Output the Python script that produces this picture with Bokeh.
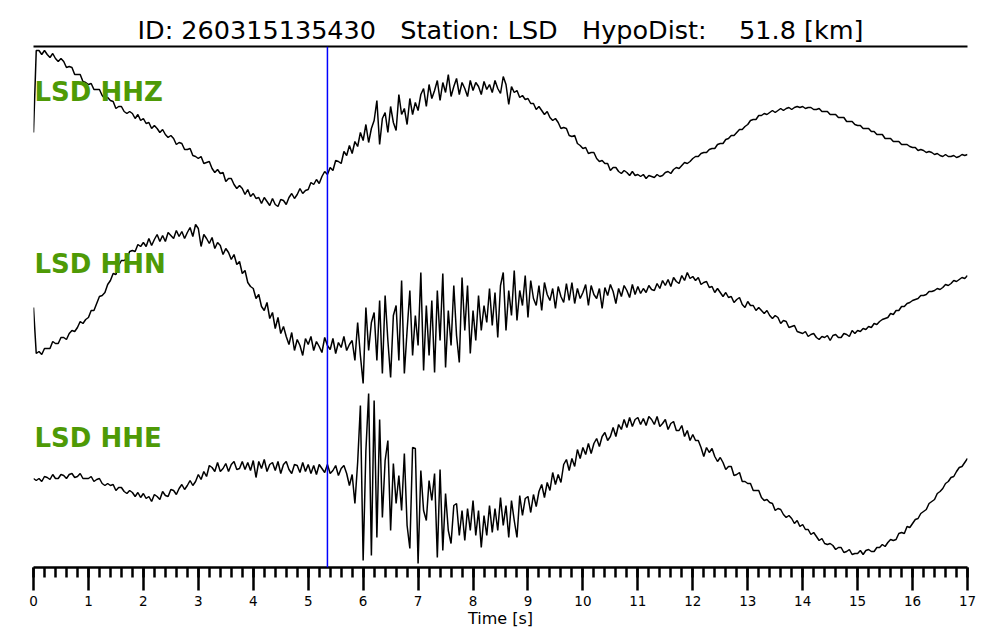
import numpy as np
from bokeh.plotting import figure
from bokeh.models import Range1d, LinearAxis, FixedTicker, Span, Label, ColumnDataSource
from bokeh.embed import file_html
from bokeh.resources import INLINE

# ---------------- data ----------------
NB = "\u00a0"
title_text = "ID: 260315135430" + NB * 2 + " Station: LSD" + NB * 2 + " HypoDist:" + NB * 3 + " 51.8 [km]"
channels = ["LSD HHZ", "LSD HHN", "LSD HHE"]
sample_interval = 0.05          # s
pick_time = 5.35                # s
tick_values = list(range(18))
tick_labels = [str(v) for v in tick_values]

hhz = [
    -4, 78, 78, 74, 78, 74, 71, 75, 70, 67, 70, 67, 61, 62, 61, 54, 54, 54, 47, 46,
    44, 45, 39, 39, 39, 33, 30, 31, 28, 27, 20, 22, 22, 17, 15, 17, 15, 10, 14, 8,
    10, 5, 6, 0, 3, 0, -4, -1, -6, -9, -7, -10, -16, -14, -15, -21, -21, -20, -27, -28,
    -30, -28, -35, -34, -33, -40, -44, -41, -45, -44, -53, -50, -50, -56, -60, -57, -60, -66, -61, -68,
    -65, -70, -69, -75, -69, -73, -77, -70, -76, -78, -71, -72, -76, -69, -65, -70, -66, -60, -65, -62,
    -61, -54, -56, -51, -55, -48, -43, -46, -39, -42, -32, -33, -35, -23, -27, -17, -25, -13, -18, -4,
    -12, 4, -14, 0, 8, 28, -16, 10, 16, -4, 22, 6, -2, 34, 14, 20, 4, 30, 14, 26,
    18, 34, 40, 22, 44, 30, 38, 48, 28, 46, 36, 54, 32, 42, 50, 34, 46, 40, 32, 48,
    38, 46, 42, 34, 47, 39, 44, 36, 48, 40, 35, 52, 44, 24, 42, 36, 38, 31, 33, 29,
    30, 25, 25, 19, 22, 18, 14, 17, 11, 8, 10, 6, 0, 1, 0, -7, -8, -7, -15, -17,
    -20, -19, -25, -24, -24, -30, -33, -32, -35, -35, -42, -39, -39, -43, -45, -42, -44, -47, -43, -47,
    -46, -48, -46, -50, -47, -48, -49, -46, -48, -47, -44, -43, -45, -41, -39, -40, -37, -34, -35, -33,
    -30, -28, -28, -25, -24, -24, -21, -20, -20, -16, -15, -15, -11, -10, -7, -7, -4, -1, -1, 2,
    4, 8, 9, 9, 13, 13, 15, 14, 16, 18, 16, 18, 20, 18, 20, 21, 19, 21, 22, 21,
    22, 20, 21, 21, 19, 19, 20, 17, 17, 17, 14, 14, 14, 11, 11, 11, 7, 7, 7, 4,
    3, 3, 0, 0, 0, -3, -3, -6, -6, -6, -10, -10, -10, -13, -13, -13, -16, -16, -16, -18,
    -19, -19, -22, -21, -22, -24, -23, -24, -26, -25, -27, -28, -26, -28, -28, -27, -29, -28, -26, -27,
    -26,
]

hhn = [
    -7, -53, -51, -54, -48, -48, -48, -41, -43, -43, -37, -37, -39, -33, -30, -31, -27, -21, -23, -19,
    -17, -10, -10, -3, 4, 5, 8, 16, 20, 27, 26, 35, 40, 40, 42, 49, 50, 49, 56, 54,
    58, 54, 62, 55, 61, 66, 59, 65, 59, 68, 65, 62, 70, 64, 69, 62, 68, 73, 64, 76,
    72, 54, 66, 62, 57, 63, 52, 58, 55, 46, 52, 48, 41, 46, 36, 39, 27, 30, 18, 14,
    12, 2, 6, -6, -10, -2, -18, -12, -28, -17, -33, -26, -36, -44, -32, -50, -39, -45, -55, -38,
    -44, -36, -50, -41, -46, -52, -37, -45, -49, -38, -53, -42, -47, -36, -50, -44, -40, -60, -22, -55,
    -83, -7, -50, -22, -12, -60, 0, -73, 5, -40, -77, -15, -5, -60, 20, -73, -30, 10, -55, -15,
    -45, 28, -70, -5, -55, 0, -72, 10, -40, 27, -67, -10, -45, 15, -35, -62, 23, -30, 15, -53,
    -10, -40, 5, -30, -5, -22, 12, -25, 8, -37, 15, 28, -30, 10, -15, 30, -20, 10, -5, 25,
    -17, 20, 2, -5, 15, -10, 18, 6, 0, 12, -8, 14, 4, -2, 17, 0, 18, -3, 12, 2,
    8, 16, -5, 15, 6, 2, 12, -8, 13, 5, 16, 9, -3, 12, 4, 15, 10, 3, 16, 6,
    14, 7, 12, 8, 15, 11, 10, 17, 12, 20, 15, 21, 14, 23, 19, 17, 25, 20, 28, 22,
    24, 20, 23, 16, 18, 19, 13, 14, 8, 12, 8, 4, 8, 3, 4, -2, 1, 3, -4, -7,
    -1, -5, -5, -10, -7, -10, -13, -10, -15, -18, -15, -17, -23, -20, -21, -27, -26, -25, -31, -32,
    -33, -31, -36, -34, -33, -37, -39, -36, -37, -35, -40, -35, -34, -37, -37, -33, -34, -36, -30, -33,
    -30, -31, -28, -29, -26, -27, -23, -24, -21, -19, -18, -17, -13, -14, -10, -10, -6, -6, -3, -2,
    0, 1, 2, 5, 5, 6, 9, 9, 10, 12, 11, 13, 16, 15, 17, 20, 19, 21, 23, 22,
    25,
]

hhe = [
    2, 0, 2, -1, 4, 3, 1, 6, 2, 2, 6, 5, 2, 6, 7, 3, 4, 7, 2, 2,
    2, 4, -1, 1, 2, -3, -5, -3, -5, -4, -10, -7, -7, -11, -13, -10, -12, -16, -12, -17,
    -13, -18, -16, -21, -14, -16, -19, -11, -15, -16, -9, -10, -14, -8, -4, -9, -5, 0, -5, -1,
    6, 1, 9, 4, 15, 13, 9, 18, 9, 12, 17, 9, 16, 19, 11, 12, 19, 11, 18, 10,
    20, 3, 19, 12, 21, 9, 16, 18, 10, 19, 7, 16, 19, 11, 7, 16, 15, 8, 18, 9,
    16, 7, 15, 6, 16, 12, 8, 16, 7, 10, 15, 5, 12, 15, 7, -5, 6, -23, 18, 75,
    -80, 30, 87, -75, 80, -57, 61, -37, 20, 40, -50, 17, -23, 5, -30, 27, -45, -68, 33, 32,
    -83, 10, -30, -40, 0, -20, 7, -77, 11, -70, -13, -50, -63, -25, -23, -55, -30, -60, -28, -50,
    -20, -55, -30, -67, -35, -55, -25, -52, -28, -50, -17, -45, -25, -57, -20, -40, -57, -15, -35, -18,
    -16, -32, -14, -26, -11, -4, -17, -2, -10, 8, -4, 6, -2, 16, 21, 10, 22, 14, 31, 22,
    33, 26, 37, 27, 37, 42, 34, 44, 48, 40, 44, 53, 44, 56, 51, 61, 53, 63, 54, 61,
    63, 56, 62, 55, 64, 61, 56, 64, 54, 57, 61, 51, 57, 59, 50, 50, 55, 44, 50, 40,
    46, 40, 40, 33, 24, 33, 28, 32, 24, 19, 23, 18, 11, 14, 14, 5, 6, 8, -1, -1,
    -3, -3, -10, -10, -10, -17, -20, -19, -22, -23, -30, -28, -29, -34, -37, -35, -38, -43, -40, -46,
    -44, -49, -49, -54, -52, -56, -60, -58, -63, -64, -63, -65, -69, -67, -67, -72, -71, -69, -74, -73,
    -73, -70, -74, -70, -69, -71, -71, -67, -67, -64, -66, -62, -59, -60, -59, -53, -52, -53, -46, -47,
    -43, -39, -38, -33, -31, -29, -23, -21, -19, -13, -11, -8, -3, -1, 3, 4, 9, 13, 14, 18,
    22,
]

traces = [hhz, hhn, hhe]
for tr in traces:
    if len(tr) != 341:
        raise ValueError("bad length %d" % len(tr))

# ---------------- layout / style ----------------
trace_offsets = [439, 267, 87]
label_lift = [37, 37, 43]
GREEN = "#4e9a06"
FONT = "DejaVu Sans"

p = figure(width=992, height=632, x_range=Range1d(0, 17), y_range=Range1d(0, 521),
           output_backend="svg", toolbar_location=None,
           x_axis_location=None, y_axis_location=None,
           min_border_left=33, min_border_right=25, min_border_top=46, min_border_bottom=65)
p.outline_line_color = None
p.grid.visible = False
p.background_fill_color = "white"
p.border_fill_color = "white"

# title
p.title.text = title_text
p.title.align = "center"
p.title.text_font = FONT
p.title.text_font_size = "25.5px"
p.title.text_font_style = "normal"
p.title.text_color = "black"
p.title.standoff = 4

# top border line
top_ax = LinearAxis(ticker=FixedTicker(ticks=[]), axis_line_width=2, axis_line_color="black",
                    major_tick_line_color=None, minor_tick_line_color=None,
                    major_label_text_font_size="0px")
p.add_layout(top_ax, "above")

# bottom time axis
minor = [round(0.2 * i, 1) for i in range(86)]
ax = LinearAxis(ticker=FixedTicker(ticks=tick_values, minor_ticks=minor), axis_label="Time [s]")
ax.major_label_overrides = {v: s for v, s in zip(tick_values, tick_labels)}
ax.axis_line_width = 2.5
ax.axis_line_color = "black"
ax.major_tick_in = 0
ax.major_tick_out = 23
ax.minor_tick_in = 0
ax.minor_tick_out = 10
ax.major_tick_line_width = 2.5
ax.minor_tick_line_width = 2.5
ax.major_tick_line_color = "black"
ax.minor_tick_line_color = "black"
ax.major_label_text_font = FONT
ax.major_label_text_font_size = "13.5px"
ax.major_label_text_color = "black"
ax.major_label_standoff = 5
ax.axis_label_text_font = FONT
ax.axis_label_text_font_size = "16px"
ax.axis_label_text_font_style = "normal"
ax.axis_label_text_color = "black"
ax.axis_label_standoff = 0
p.add_layout(ax, "below")

for name, tr, off, lift in zip(channels, traces, trace_offsets, label_lift):
    t = np.arange(len(tr)) * sample_interval
    src = ColumnDataSource(dict(t=t, y=np.asarray(tr, dtype=float) + off))
    p.line("t", "y", source=src, line_color="black", line_width=1.5)
    p.add_layout(Label(x=0, y=off + lift, x_offset=1, text=name, text_color=GREEN,
                       text_font=FONT, text_font_size="26px", text_font_style="bold",
                       text_baseline="alphabetic", text_align="left"))

p.add_layout(Span(location=pick_time, dimension="height", line_color="blue", line_width=1.5))

open("out.html", "w").write(file_html(p, INLINE))
